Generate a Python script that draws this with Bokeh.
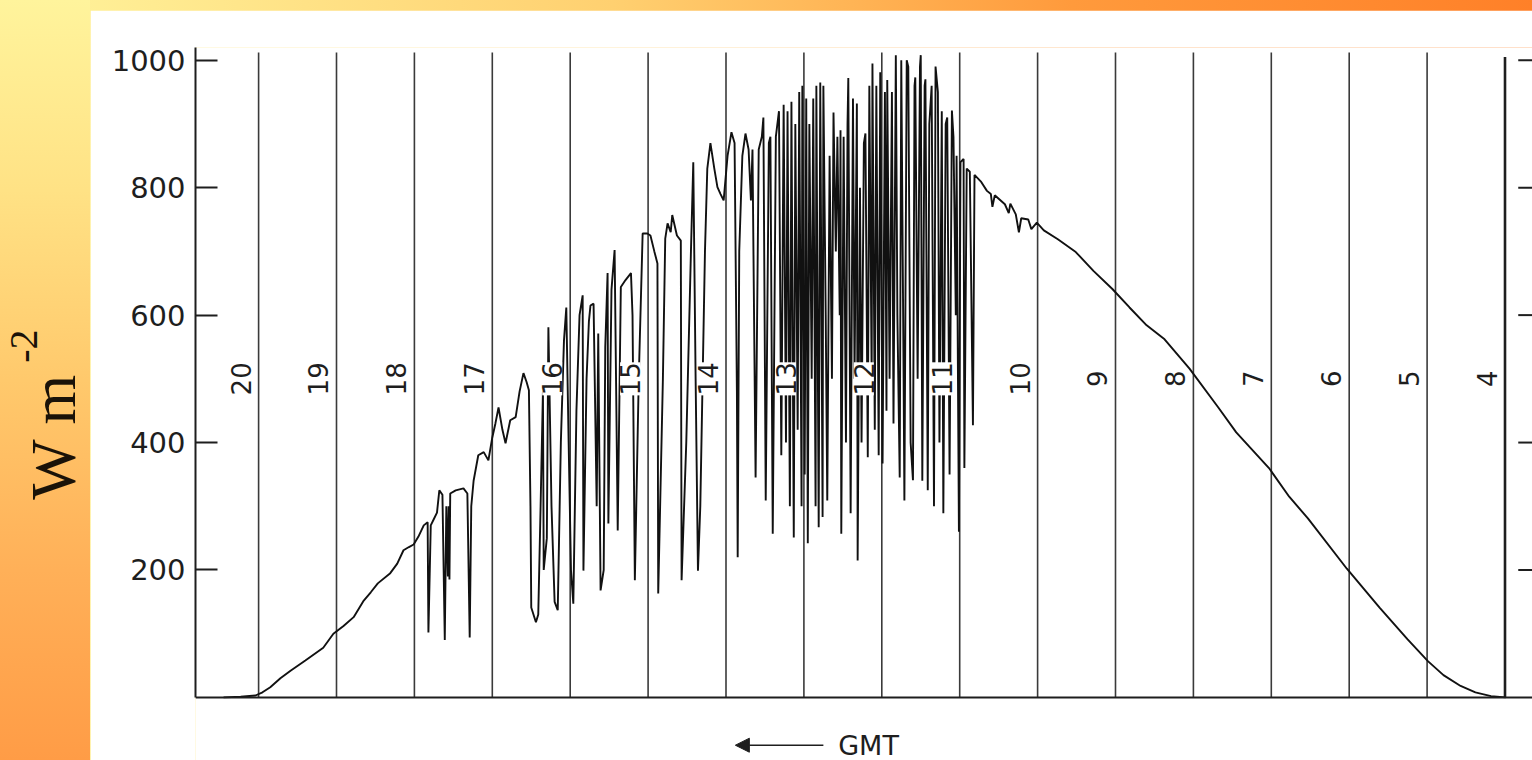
from math import pi
from bokeh.plotting import figure
from bokeh.models import (Range1d, LinearAxis, FixedTicker, ColumnDataSource,
                          LabelSet, Label, Arrow, NormalHead)
from bokeh.layouts import row
from bokeh.embed import file_html
from bokeh.resources import INLINE
from bokeh.core.properties import value

# ---------------- data ----------------
# GMT hour (decimal) and global irradiance (W m-2)
hours = [
    20.45, 20.23, 20.04, 19.95, 19.85, 19.72, 19.59, 19.40, 19.17, 19.04,
    18.91, 18.78, 18.65, 18.56, 18.47, 18.31, 18.22, 18.14, 18.07, 18.01,
    17.95, 17.88,
    17.83, 17.82, 17.79, 17.75, 17.71, 17.68, 17.64, 17.61, 17.59, 17.57,
    17.56, 17.55, 17.54, 17.47, 17.37, 17.32, 17.29, 17.27, 17.24, 17.18,
    17.11, 17.05, 17.00, 16.96, 16.92, 16.87, 16.83, 16.77, 16.70, 16.65,
    16.60, 16.56, 16.53, 16.51, 16.50, 16.44, 16.41, 16.38, 16.35, 16.34,
    16.30, 16.28, 16.24, 16.20, 16.16, 16.12, 16.08, 16.05, 16.02, 15.99,
    15.96, 15.92, 15.88, 15.84, 15.83, 15.79, 15.76, 15.74, 15.70, 15.66,
    15.64, 15.61, 15.57, 15.55, 15.52, 15.51, 15.47, 15.43, 15.39, 15.35,
    15.29, 15.22, 15.20, 15.17, 15.12, 15.07, 15.01, 14.97, 14.92, 14.88,
    14.87, 14.81, 14.78, 14.75, 14.71, 14.69, 14.63, 14.58, 14.57, 14.51,
    14.45, 14.42, 14.39, 14.36, 14.33, 14.27, 14.24, 14.20, 14.15, 14.11,
    14.07, 14.03, 13.98, 13.93, 13.89, 13.86, 13.85, 13.83, 13.79, 13.75,
    13.71, 13.68, 13.66, 13.62, 13.58, 13.54, 13.52, 13.49, 13.45, 13.43,
    13.40, 13.36, 13.32,
    13.29, 13.26, 13.23, 13.21, 13.18, 13.16, 13.13, 13.11, 13.08, 13.06,
    13.03, 13.02, 12.99, 12.97, 12.95, 12.93, 12.90, 12.88, 12.85, 12.84,
    12.81, 12.79, 12.76, 12.75, 12.72, 12.70, 12.67, 12.64, 12.62, 12.59,
    12.57, 12.54, 12.53, 12.52, 12.49, 12.46, 12.44, 12.43, 12.40, 12.37,
    12.35, 12.32, 12.31, 12.28, 12.26, 12.23, 12.21, 12.18, 12.16, 12.13,
    12.12, 12.09, 12.07, 12.04, 12.02, 11.99, 11.96, 11.94, 11.93, 11.90,
    11.87, 11.85, 11.82, 11.80, 11.77, 11.75, 11.72, 11.71, 11.68, 11.66,
    11.63, 11.60, 11.58, 11.57, 11.54, 11.51, 11.50, 11.48, 11.45, 11.44,
    11.41, 11.39, 11.36, 11.33, 11.31, 11.28, 11.26, 11.23, 11.21, 11.18,
    11.16, 11.13, 11.10, 11.08, 11.05, 11.04, 11.01, 10.99, 10.95, 10.94,
    10.91, 10.87, 10.83, 10.81,
    10.73, 10.65, 10.60, 10.58, 10.55, 10.42, 10.37, 10.35, 10.28, 10.24,
    10.21, 10.12, 10.08, 10.01, 9.92, 9.74, 9.51, 9.28, 9.04, 8.82,
    8.60, 8.37, 8.05, 7.68, 7.45, 7.03, 6.77, 6.53, 6.03, 5.61,
    5.25, 4.99, 4.79, 4.57, 4.38, 4.18, 3.99,
]
irradiance = [
    0, 1, 3, 8, 16, 30, 42, 58, 78, 100,
    112, 126, 152, 165, 179, 195, 210, 231, 236, 240,
    252, 270,
    275, 102, 270, 280, 290, 325, 318, 90, 300, 190,
    300, 185, 320, 325, 328, 320, 94, 300, 340, 380,
    385, 372, 408, 430, 455, 420, 399, 435, 440, 480,
    509, 495, 482, 300, 141, 118, 130, 300, 480, 200,
    250, 581, 300, 150, 137, 400, 560, 612, 400, 200,
    147, 450, 600, 631, 199, 500, 590, 615, 618, 300,
    571, 168, 200, 550, 666, 273, 640, 702, 262, 644,
    655, 666, 600, 184, 500, 728, 728, 725, 700, 681,
    163, 500, 720, 744, 730, 757, 725, 717, 184, 400,
    700, 840, 500, 199, 300, 700, 830, 870, 830, 801,
    790, 780, 850, 887, 870, 480, 220, 700, 850, 885,
    860, 780, 860, 345, 860, 880, 910, 309, 870, 880,
    257, 880, 920,
    380, 930, 400, 920, 300, 935, 251, 900, 420, 950,
    300, 960, 350, 940, 242, 900, 500, 940, 300, 960,
    267, 965, 283, 960, 600, 309, 850, 500, 918, 700,
    880, 600, 890, 257, 880, 400, 900, 972, 289, 940,
    500, 932, 215, 800, 400, 870, 885, 377, 960, 500,
    995, 420, 960, 380, 981, 367, 950, 450, 969, 500,
    950, 430, 1008, 600, 345, 1000, 500, 309, 1000, 990,
    400, 341, 960, 973, 500, 990, 1008, 340, 960, 970,
    325, 900, 960, 300, 990, 950, 400, 920, 289, 900,
    910, 350, 921, 880, 600, 850, 260, 840, 845, 360,
    830, 825, 427, 820,
    810, 795, 790, 770, 788, 774, 760, 775, 758, 730,
    752, 750, 735, 745, 733, 719, 699, 669, 641, 612,
    584, 562, 516, 455, 416, 360, 315, 281, 202, 141,
    91, 57, 35, 18, 8, 2, 0,
]

hour_lines = [20, 19, 18, 17, 16, 15, 14, 13, 12, 11, 10, 9, 8, 7, 6, 5]
end_hour = [4]
plain_label_hours = [20, 19, 18, 17, 10, 9, 8, 7, 6, 5, 4]
boxed_label_hours = [16, 15, 14, 13, 12, 11]
label_level = 500
y_ticks = [200, 400, 600, 800, 1000]

FONT = "DejaVu Sans"
INK = "#1e1e1e"

# ---------------- main chart ----------------
p = figure(width=1442, height=750,
           x_range=Range1d(20.81, 3.647), y_range=Range1d(-99, 1020),
           output_backend="svg", toolbar_location=None, title=None,
           x_axis_location=None,
           min_border_left=105, min_border_right=0,
           min_border_top=37, min_border_bottom=0)
p.margin = (10, 0, 0, 0)
p.background_fill_color = "white"
p.border_fill_color = "white"
p.outline_line_color = None
p.grid.visible = False

# left axis
ya = p.yaxis[0]
ya.ticker = FixedTicker(ticks=y_ticks)
ya.bounds = (0, 1020)
ya.minor_tick_line_color = None
ya.major_tick_in = 22
ya.major_tick_out = 0
ya.major_tick_line_width = 2
ya.major_tick_line_color = INK
ya.axis_line_width = 2
ya.axis_line_color = INK
ya.major_label_text_font = FONT
ya.major_label_text_font_size = "29px"
ya.major_label_text_color = INK
ya.major_label_standoff = 10

# bottom axis (line only), placed at zero
xa = LinearAxis(ticker=FixedTicker(ticks=[]), fixed_location=0)
xa.axis_line_width = 2
xa.axis_line_color = INK
xa.major_tick_line_color = None
xa.minor_tick_line_color = None
p.add_layout(xa, "below")

# hour lines
lines_src = ColumnDataSource(dict(h=hour_lines))
p.segment(x0="h", y0=0, x1="h", y1=1012, source=lines_src,
          line_color="#3a3a3a", line_width=1.6)
p.segment(x0=end_hour, y0=[0], x1=end_hour, y1=[1005],
          line_color=INK, line_width=2.6)

# right-hand tick marks, set off from the closing hour line
tick_src = ColumnDataSource(dict(y=y_ticks,
                                 x0=[end_hour[0] - 0.17] * len(y_ticks),
                                 x1=[end_hour[0] - 0.40] * len(y_ticks)))
p.segment(x0="x0", y0="y", x1="x1", y1="y", source=tick_src,
          line_color=INK, line_width=2)

# irradiance trace
p.line(hours, irradiance, line_color="#111111", line_width=1.9)

# hour labels
plain_src = ColumnDataSource(dict(x=plain_label_hours,
                                  y=[label_level] * len(plain_label_hours),
                                  t=[str(h) for h in plain_label_hours]))
boxed_src = ColumnDataSource(dict(x=boxed_label_hours,
                                  y=[label_level] * len(boxed_label_hours),
                                  t=[str(h) for h in boxed_label_hours]))
p.add_layout(LabelSet(x="x", y="y", text="t", source=plain_src, angle=pi / 2,
                      x_offset=-18, text_align="center", text_baseline="middle",
                      text_font=value(FONT), text_font_size=value("26px"),
                      text_color=INK))
p.add_layout(LabelSet(x="x", y="y", text="t", source=boxed_src, angle=pi / 2,
                      x_offset=-18, text_align="center", text_baseline="middle",
                      text_font=value(FONT), text_font_size=value("26px"),
                      text_color=INK,
                      background_fill_color="white", background_fill_alpha=1.0))

# "<---- GMT" below the axis
p.add_layout(Arrow(end=NormalHead(size=14, fill_color=INK, line_color=INK),
                   x_start=12.75, y_start=-75, x_end=13.88, y_end=-75,
                   line_color=INK, line_width=1.6))
p.add_layout(Label(x=12.56, y=-75, text="GMT", text_align="left",
                   text_baseline="middle", text_font=FONT,
                   text_font_size="27px", text_color=INK))

# ---------------- left decorative strip with unit label ----------------
s = figure(width=90, height=760, x_range=Range1d(0, 90), y_range=Range1d(0, 760),
           output_backend="svg", toolbar_location=None, title=None,
           x_axis_type=None, y_axis_type=None, min_border=0)
s.background_fill_color = None
s.border_fill_color = None
s.outline_line_color = None
s.styles = {"background": "linear-gradient(to bottom, #fff49c 0%, #ffe285 25%, "
                          "#ffc96c 50%, #ffb058 75%, #ff9c46 100%)"}
s.text(x=[53], y=[274], text=["W m"], angle=pi / 2, text_align="left",
       text_baseline="alphabetic", text_font=value("Liberation Serif"),
       text_font_size="64px", text_color="#1a1208")
s.text(x=[23], y=[418], text=["-2"], angle=pi / 2, text_align="left",
       text_baseline="alphabetic", text_font=value("Liberation Serif"),
       text_font_size="40px", text_color="#1a1208")

layout = row(s, p, styles={"background": "linear-gradient(to right, #fff49c 0%, "
                                         "#ffd070 40%, #ff9a3c 70%, #ff8028 100%)"})

open("out.html", "w").write(file_html(layout, INLINE))
